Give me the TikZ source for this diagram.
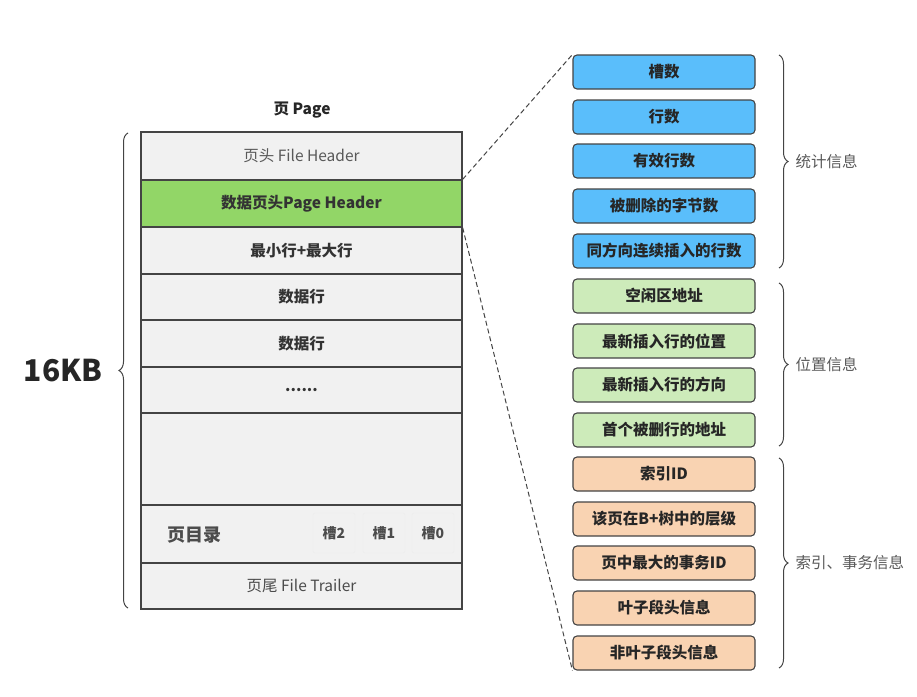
\documentclass[tikz,border=0pt]{standalone}
\usepackage{fontspec}
\setmainfont{Noto Sans CJK SC}
\usetikzlibrary{decorations.pathreplacing}
\definecolor{rowgray}{HTML}{F1F1F1}
\definecolor{linegray}{HTML}{444444}
\definecolor{hdrgreen}{HTML}{92D667}
\definecolor{statblue}{HTML}{5ABEFB}
\definecolor{posgreen}{HTML}{CDEBBA}
\definecolor{idxorange}{HTML}{F9D3B2}
\begin{document}
\begin{tikzpicture}[
    x=1pt, y=-1pt,
    every node/.style={font=\fontsize{15.5}{17}\selectfont},
    pagerow/.style={
        draw=linegray,
        line width=1.3pt,
        fill=rowgray,
        minimum width=321pt,
        inner sep=0pt,
        font=\fontsize{15.5}{17}\selectfont\bfseries,
        text=black!80
    },
    slotbox/.style={
        draw=black!8,
        rounded corners=2pt,
        fill=rowgray,
        minimum width=42pt,
        minimum height=40pt,
        inner sep=0pt,
        font=\fontsize{14}{16}\selectfont\bfseries,
        text=black!70
    },
    infobox/.style={
        draw=linegray,
        line width=1.1pt,
        rounded corners=4pt,
        minimum width=182pt,
        minimum height=34pt,
        inner sep=0pt,
        font=\fontsize{15.5}{17}\selectfont\bfseries,
        text=black!85
    },
    bracelabel/.style={anchor=west, text=black!65, font=\fontsize{15.5}{17}\selectfont},
    grpbrace/.style={draw=linegray, line width=1pt,
        decorate, decoration={brace, amplitude=9pt}},
    zoomline/.style={linegray, line width=1pt, dash pattern=on 5pt off 3pt}
]
    \useasboundingbox (0,0) rectangle (917,696);

    % Page title
    \node[font=\fontsize{15.5}{17}\selectfont\bfseries, text=black!85] (title) at (302,110) {页 Page};

    % Page rows
    \node[pagerow, minimum height=48pt, font=\fontsize{15.5}{17}\selectfont, text=black!65] (fhdr) at (301.5,156) {页头 File Header};
    \node[pagerow, minimum height=47pt, fill=hdrgreen] (phdr) at (301.5,203.5) {数据页头Page Header};
    \node[pagerow, minimum height=47pt] (minmax) at (301.5,250.5) {最小行+最大行};
    \node[pagerow, minimum height=46pt] (row1) at (301.5,297) {数据行};
    \node[pagerow, minimum height=47pt] (row2) at (301.5,343.5) {数据行};
    \node[pagerow, minimum height=46pt] (dots) at (301.5,390) {......};
    \node[pagerow, minimum height=92pt] (free) at (301.5,459) {};
    \node[pagerow, minimum height=58pt] (pdir) at (301.5,534) {};
    \node[pagerow, minimum height=46pt, font=\fontsize{15.5}{17}\selectfont, text=black!70] (ftrl) at (301.5,586) {页尾 File Trailer};

    % Page directory
    \node[font=\fontsize{18}{20}\selectfont\bfseries, text=black!70] (pdirlbl) at (194,535) {页目录};
    \node[slotbox] (slot2) at (334,533) {槽2};
    \node[slotbox] (slot1) at (384,533) {槽1};
    \node[slotbox] (slot0) at (433,533) {槽0};

    % Page size brace
    \coordinate (lbtop) at (128,133);
    \coordinate (lbbot) at (128,608);
    \draw[grpbrace] (lbbot) -- (lbtop);
    \node[anchor=east, font=\fontsize{30}{32}\selectfont\bfseries, text=black!85] (size) at (106,371) {16KB};

    % Statistics boxes
    \node[infobox, fill=statblue] (stat1) at (664,72) {槽数};
    \node[infobox, fill=statblue] (stat2) at (664,117) {行数};
    \node[infobox, fill=statblue] (stat3) at (664,161) {有效行数};
    \node[infobox, fill=statblue] (stat4) at (664,206) {被删除的字节数};
    \node[infobox, fill=statblue] (stat5) at (664,251) {同方向连续插入的行数};

    % Position boxes
    \node[infobox, fill=posgreen] (pos1) at (664,296) {空闲区地址};
    \node[infobox, fill=posgreen] (pos2) at (664,341) {最新插入行的位置};
    \node[infobox, fill=posgreen] (pos3) at (664,385) {最新插入行的方向};
    \node[infobox, fill=posgreen] (pos4) at (664,430) {首个被删行的地址};

    % Index and transaction boxes
    \node[infobox, fill=idxorange] (idx1) at (664,474) {索引ID};
    \node[infobox, fill=idxorange] (idx2) at (664,519) {该页在B+树中的层级};
    \node[infobox, fill=idxorange] (idx3) at (664,563) {页中最大的事务ID};
    \node[infobox, fill=idxorange] (idx4) at (664,608) {叶子段头信息};
    \node[infobox, fill=idxorange] (idx5) at (664,653) {非叶子段头信息};

    % Group braces
    \coordinate (sbtop) at (779,55);
    \coordinate (sbbot) at (779,268);
    \draw[grpbrace] (sbtop) -- (sbbot);
    \node[bracelabel] (statlbl) at (792,161.5) {统计信息};

    \coordinate (pbtop) at (779,283);
    \coordinate (pbbot) at (779,446);
    \draw[grpbrace] (pbtop) -- (pbbot);
    \node[bracelabel] (poslbl) at (792,364.5) {位置信息};

    \coordinate (ibtop) at (779,458);
    \coordinate (ibbot) at (779,668);
    \draw[grpbrace] (ibtop) -- (ibbot);
    \node[bracelabel] (idxlbl) at (792,563) {索引、事务信息};

    % Zoom lines
    \draw[zoomline] (phdr.north east) -- (stat1.north west);
    \draw[zoomline] (phdr.south east) -- (idx5.south west);

\end{tikzpicture}
\end{document}
